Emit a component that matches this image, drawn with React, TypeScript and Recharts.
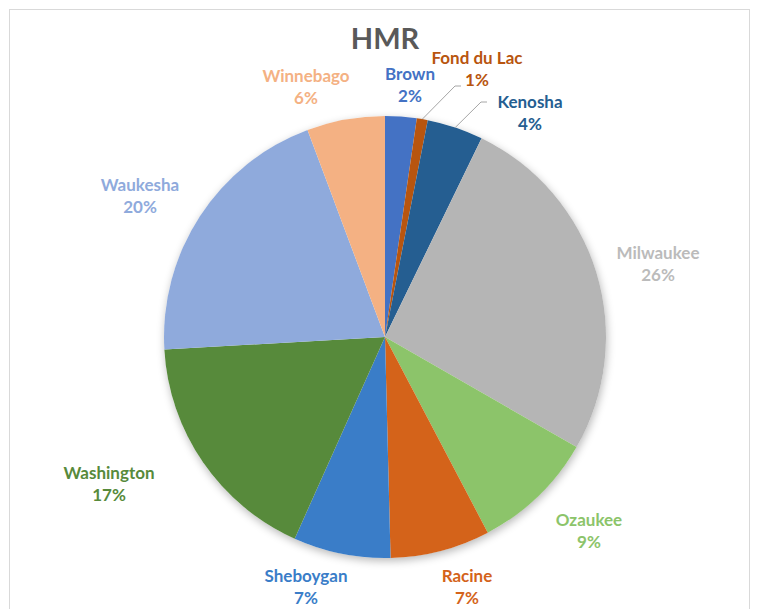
import React from 'react';
import { PieChart, Pie, Cell } from 'recharts';

const counties = ['Brown', 'Fond du Lac', 'Kenosha', 'Milwaukee', 'Ozaukee', 'Racine', 'Sheboygan', 'Washington', 'Waukesha', 'Winnebago'];
const shares = [2.3, 0.8, 4.1, 26.1, 9.0, 7.3, 7.1, 17.4, 20.2, 5.7];
const sliceColors = ['#4472C4', '#B8550F', '#255E91', '#B5B5B5', '#8CC46A', '#D4631A', '#3A7DC8', '#578A3B', '#8FAADC', '#F4B183'];
const labelColors = ['#4472C4', '#B8550F', '#255E91', '#BBBBBB', '#8CC46A', '#D4631A', '#3A7DC8', '#578A3B', '#8FAADC', '#F4B183'];

const data = counties.map((name, i) => ({ name, value: shares[i] }));

// where Excel's best-fit put each label, relative to the pie centre
const labelOffsets: Record<string, [number, number]> = {
  'Brown': [25, -252],
  'Fond du Lac': [92, -268],
  'Kenosha': [145, -224],
  'Milwaukee': [273, -73],
  'Ozaukee': [204, 194],
  'Racine': [82, 250],
  'Sheboygan': [-79, 250],
  'Washington': [-276, 147],
  'Waukesha': [-245, -141],
  'Winnebago': [-79, -250],
};

// leader line end points, relative to the label centre
const leaders: Record<string, [number, number]> = {
  'Fond du Lac': [-16, 17],
  'Kenosha': [-43, -11],
};

const FONT = 'Lato, "Open Sans", sans-serif';
const RAD = Math.PI / 180;
const PIE_X = 385;
const PIE_Y = 337;
const RADIUS = 221;
const MARGIN = 5; // recharts default chart margin, cx/cy are measured from it

const renderLabel = (props: any) => {
  const { cx, cy, midAngle, outerRadius, index, percent } = props;
  const name = counties[index];
  const [dx, dy] = labelOffsets[name];
  const x = cx + dx;
  const y = cy + dy;
  const color = labelColors[index];
  const leader = leaders[name];
  let line = null;
  if (leader) {
    const sx = cx + outerRadius * Math.cos(-midAngle * RAD);
    const sy = cy + outerRadius * Math.sin(-midAngle * RAD);
    const ex = x + leader[0];
    const ey = y + leader[1];
    line = (
      <polyline
        points={`${sx},${sy} ${ex - 6},${ey} ${ex},${ey}`}
        fill="none"
        stroke="#A6A6A6"
        strokeWidth={1}
      />
    );
  }
  return (
    <g key={name}>
      {line}
      <text
        x={x}
        y={y}
        textAnchor="middle"
        fontFamily={FONT}
        fontWeight={700}
        fontSize={17}
        fill={color}
      >
        <tspan x={x} dy={-5}>{name}</tspan>
        <tspan x={x} dy={22}>{Math.round(percent * 100)}%</tspan>
      </text>
    </g>
  );
};

const App = () => {
  return (
    <div style={{ position: 'absolute', left: 0, top: 0, width: 760, height: 609, background: '#fff', overflow: 'hidden' }}>
      <div
        style={{
          position: 'absolute',
          left: 9,
          top: 9,
          width: 741,
          height: 620,
          border: '1px solid #D9D9D9',
          boxSizing: 'border-box',
        }}
      />
      <div
        style={{
          position: 'absolute',
          left: 0,
          top: 20,
          width: 770,
          textAlign: 'center',
          fontFamily: FONT,
          fontWeight: 700,
          fontSize: 29,
          color: '#595959',
        }}
      >
        HMR
      </div>
      {/* soft shadow under the pie */}
      <div
        style={{
          position: 'absolute',
          left: PIE_X - RADIUS,
          top: PIE_Y - RADIUS,
          width: RADIUS * 2,
          height: RADIUS * 2,
          borderRadius: '50%',
          boxShadow: '1px 3px 8px rgba(0,0,0,0.28)',
        }}
      />
      <div style={{ position: 'absolute', left: 0, top: 0 }}>
        <PieChart width={760} height={609}>
          <Pie
            data={data}
            dataKey="value"
            nameKey="name"
            cx={PIE_X - MARGIN}
            cy={PIE_Y - MARGIN}
            outerRadius={RADIUS}
            startAngle={90}
            endAngle={-270}
            stroke="none"
            label={renderLabel}
            labelLine={false}
            isAnimationActive={false}
          >
            {data.map((d, i) => (
              <Cell key={d.name} fill={sliceColors[i]} />
            ))}
          </Pie>
        </PieChart>
      </div>
    </div>
  );
};

export default App;
